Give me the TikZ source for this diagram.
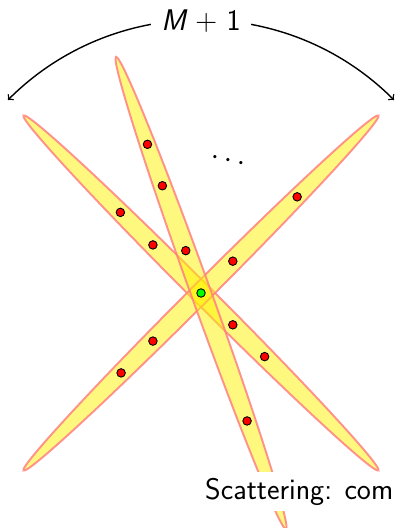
\documentclass[tikz,border=0pt]{standalone}
\begin{document}
\begin{tikzpicture}[x=0.02cm,y=0.02cm,
  band/.style={draw=red!50, draw opacity=0.85, line width=1.1pt, fill=yellow, fill opacity=0.5},
  pt/.style={circle, draw=black, fill=red, inner sep=0pt, minimum size=0.17cm, line width=0.5pt},
  big/.style={font=\fontsize{17}{20}\selectfont\sffamily}]
\useasboundingbox (0,0) rectangle (395,528);
\coordinate (o) at (201,235);

% the three bands
\draw[band, rotate around={135:(o)}] (o) ellipse (5.02cm and 0.2cm);
\draw[band, rotate around={45:(o)}] (o) ellipse (5.02cm and 0.2cm);
\draw[band, rotate around={109.8:(o)}] (o) ellipse (5.02cm and 0.2cm);

% points on the bands
\foreach \ang/\r [count=\i] in {135/114, 135/68, -45/45, -45/90, 45/136, 45/45, 225/68, 225/113,
  109.8/158, 109.8/114, 109.8/45, -70.2/136}
  \path (o) ++(\ang:\r) node[pt] (p\i) {};
\node[pt, fill=green] (c) at (o) {};

\node[rotate=-13, font=\fontsize{18}{21}\selectfont] (dd) at (228,367) {$\cdots$};

% arc with label
\draw[thick, <->] (o) ++(135:273) coordinate (l) arc (135:45:5.46cm) coordinate (r);
\path (o) ++(90:272) node[big, fill=white, inner xsep=6pt] (m) {\slshape M\upshape\ $+$\ 1};

\node[big, fill=white, anchor=base west] (s) at (199,29) {Scattering: com};
\end{tikzpicture}
\end{document}
